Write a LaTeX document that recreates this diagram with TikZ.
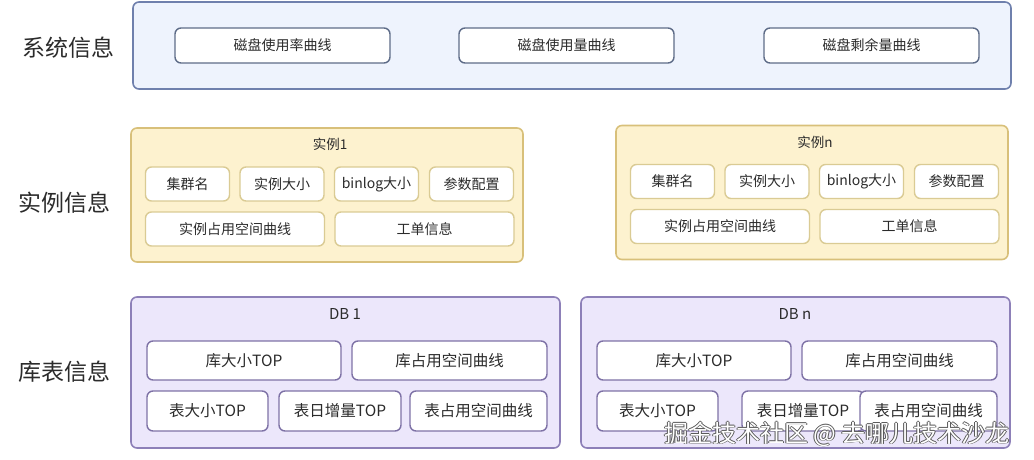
\documentclass[tikz,border=0pt]{standalone}
\usepackage{fontspec}
\setmainfont{Noto Sans CJK SC}
\usetikzlibrary{positioning}

\definecolor{sysfill}{HTML}{EEF3FD}
\definecolor{sysline}{HTML}{6F80AD}
\definecolor{sysbox}{HTML}{5E6C88}
\definecolor{insfill}{HTML}{FDF2CF}
\definecolor{insline}{HTML}{D8C07A}
\definecolor{insbox}{HTML}{DACB94}
\definecolor{dbfill}{HTML}{ECE7FB}
\definecolor{dbline}{HTML}{8D80B8}
\definecolor{dbbox}{HTML}{7E72A6}
\definecolor{txt}{HTML}{2B2B2B}

\tikzset{
  panel/.style={draw, rounded corners=6pt, line width=1.6pt, inner sep=0pt},
  cell/.style={draw, fill=white, rounded corners=6pt, line width=1.4pt,
    inner sep=0pt, text=txt},
  rowlabel/.style={text=txt, font=\fontsize{23}{26}\selectfont},
  wmark/.style={font=\fontsize{24}{26}\selectfont}
}

\begin{document}
\begin{tikzpicture}[x=1pt, y=-1pt]
    \useasboundingbox (0,0) rectangle (1034,460);

    % ===== system info (y=2..89) =====
    \node[rowlabel] (lblsys) at (68, 48) {系统信息};
    \node[panel, draw=sysline, fill=sysfill, minimum width=878pt, minimum height=87pt]
      (syspanel) at (572, 45.5) {};
    \foreach \idx/\cx/\txt in {1/282.5/磁盘使用率曲线, 2/566.5/磁盘使用量曲线, 3/871.5/磁盘剩余量曲线} {
      \node[cell, draw=sysbox, minimum width=215pt, minimum height=35pt,
            font=\fontsize{14}{16}\selectfont] (sys\idx) at (\cx, 45.5) {\txt};
    }

    % ===== instance info (two panels, second shifted by dx/dy) =====
    \node[rowlabel] (lblins) at (65, 203) {实例信息};
    \foreach \p/\dx/\dy/\title in {1/0/0/实例1, n/485/-2.5/实例n} {
      \node[panel, draw=insline, fill=insfill, minimum width=392pt, minimum height=134pt]
        (ins\p) at ({327+\dx}, {195+\dy}) {};
      \node[text=txt, font=\fontsize{13.5}{15}\selectfont]
        (ins\p-title) at ({330+\dx}, {144.5+\dy}) {\title};
      % row 1: four small cells
      \foreach \k/\cx/\txt in {1/187.5/集群名, 2/282/实例大小, 3/376.5/binlog大小, 4/471.5/参数配置} {
        \node[cell, draw=insbox, minimum width=84pt, minimum height=34pt,
              font=\fontsize{14}{16}\selectfont]
          (ins\p-a\k) at ({\cx+\dx}, {184+\dy}) {\txt};
      }
      % row 2: two wide cells
      \foreach \k/\cx/\txt in {1/235/实例占用空间曲线, 2/424.5/工单信息} {
        \node[cell, draw=insbox, minimum width=179pt, minimum height=34pt,
              font=\fontsize{14}{16}\selectfont]
          (ins\p-b\k) at ({\cx+\dx}, {229+\dy}) {\txt};
      }
    }

    % ===== table info (two DB panels) =====
    \node[rowlabel] (lbldb) at (65, 372) {库表信息};
    \foreach \p/\dx/\mx/\title in {1/0/340/DB 1, n/450/803/DB n} {
      \node[panel, draw=dbline, fill=dbfill, minimum width=429pt, minimum height=151pt]
        (db\p) at ({345.5+\dx}, 372.5) {};
      \node[text=txt, font=\fontsize{15}{17}\selectfont]
        (db\p-title) at ({345+\dx}, 314) {\title};
      \node[cell, draw=dbbox, minimum width=194pt, minimum height=39pt,
            font=\fontsize{15.5}{17}\selectfont] (db\p-a1) at ({244+\dx}, 360.5) {库大小TOP};
      \node[cell, draw=dbbox, minimum width=195pt, minimum height=39pt,
            font=\fontsize{15.5}{17}\selectfont] (db\p-a2) at ({449.5+\dx}, 360.5) {库占用空间曲线};
      \node[cell, draw=dbbox, minimum width=121pt, minimum height=40pt,
            font=\fontsize{15.5}{17}\selectfont] (db\p-b1) at ({207.5+\dx}, 411) {表大小TOP};
      \node[cell, draw=dbbox, minimum width=122pt, minimum height=40pt,
            font=\fontsize{15.5}{17}\selectfont] (db\p-b2) at (\mx, 411) {表日增量TOP};
      \node[cell, draw=dbbox, minimum width=137pt, minimum height=40pt,
            font=\fontsize{15.5}{17}\selectfont] (db\p-b3) at ({478.5+\dx}, 411) {表占用空间曲线};
    }

    % watermark
    \foreach \k/\ox/\oy in {1/0.8/0, 2/-0.8/0, 3/0/0.8, 4/0/-0.8} {
      \node[wmark, text=black!65] (wmo\k) at ({837+\ox}, {434+\oy}) {掘金技术社区 @ 去哪儿技术沙龙};
    }
    \node[wmark, text=white] (wm) at (837, 434) {掘金技术社区 @ 去哪儿技术沙龙};

\end{tikzpicture}
\end{document}
